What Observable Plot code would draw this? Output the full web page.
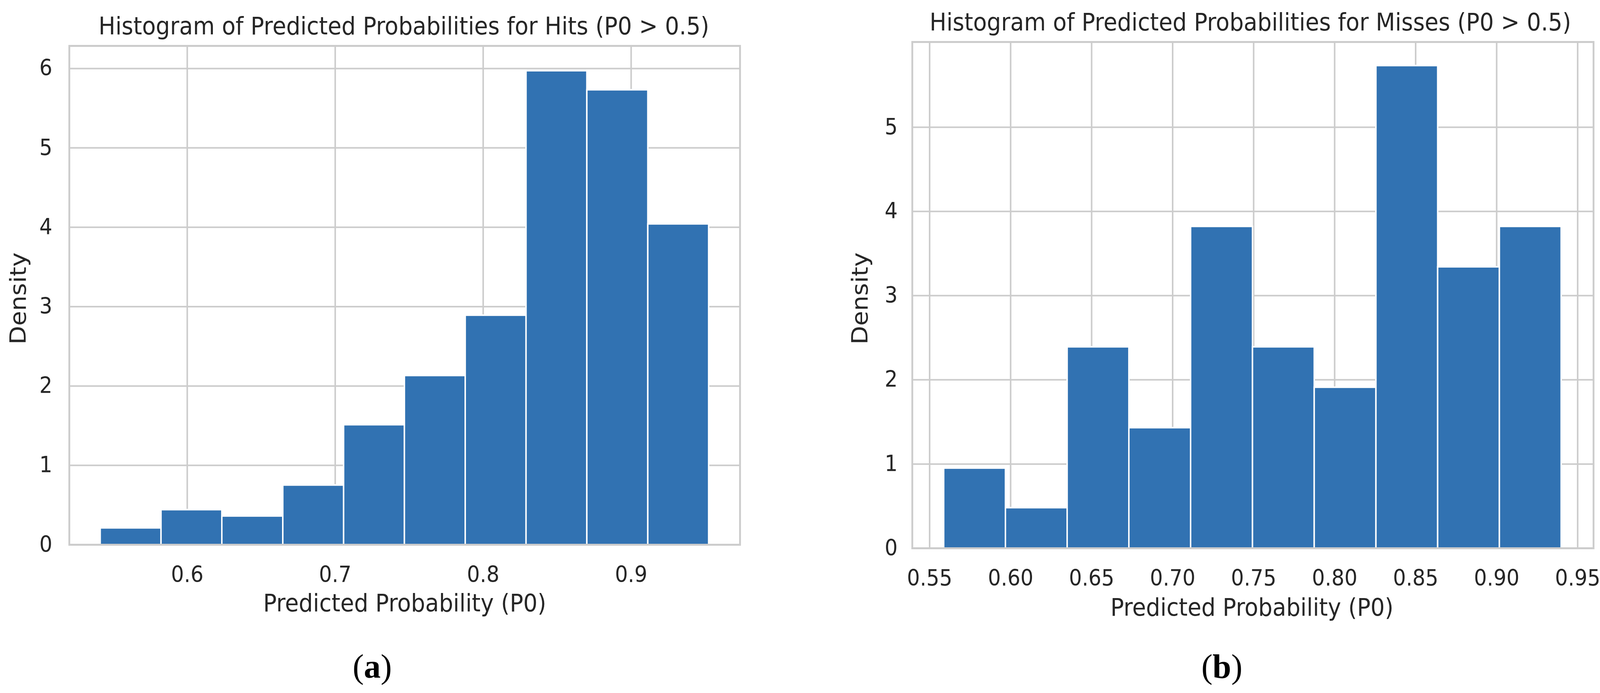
<!DOCTYPE html>
<html>
<head>
<meta charset="utf-8">
<script src="https://cdn.jsdelivr.net/npm/d3@7"></script>
<script src="https://cdn.jsdelivr.net/npm/@observablehq/plot@0.6"></script>
<style>
  html, body { margin: 0; padding: 0; background: #ffffff; }
  #fig { position: relative; width: 4105px; height: 1774px; background: #ffffff; overflow: hidden; }
  .panel { position: absolute; top: 0; }
  #overlay { position: absolute; left: 0; top: 0; pointer-events: none; }
</style>
</head>
<body>
<div id="fig">
  <div id="left" class="panel" style="left:0px"></div>
  <div id="right" class="panel" style="left:2052px"></div>
  <svg id="overlay" width="4105" height="1774"></svg>
</div>
<script>
// ---------------- data ----------------
// (a) Hits: bin edges and density heights
const hitsBinEdges = [0.5413, 0.5824, 0.6235, 0.6647, 0.7058, 0.7469, 0.7880, 0.8291, 0.8702, 0.9114, 0.9525];
const hitsDensity  = [0.21, 0.44, 0.36, 0.75, 1.51, 2.13, 2.89, 5.97, 5.73, 4.04];
const hitsXTicks   = [0.6, 0.7, 0.8, 0.9];
const hitsYTicks   = [0, 1, 2, 3, 4, 5, 6];

// (b) Misses: bin edges and density heights
const missBinEdges = [0.5588, 0.5969, 0.6350, 0.6731, 0.7112, 0.7494, 0.7875, 0.8256, 0.8637, 0.9018, 0.9399];
const missDensity  = [0.95, 0.48, 2.39, 1.43, 3.82, 2.39, 1.91, 5.73, 3.34, 3.82];
const missXTicks   = [0.55, 0.60, 0.65, 0.70, 0.75, 0.80, 0.85, 0.90, 0.95];
const missYTicks   = [0, 1, 2, 3, 4, 5];

const titles   = ["Histogram of Predicted Probabilities for Hits (P0 > 0.5)",
                  "Histogram of Predicted Probabilities for Misses (P0 > 0.5)"];
const xLabel   = "Predicted Probability (P0)";
const yLabel   = "Density";
const captions = ["a", "b"];

// ---------------- styling ----------------
const SQ = 0.925;          // horizontal squeeze of the original figure
const H = 1620;            // svg height
const BAR = "#3172b2";
const GRID = "#cccccc";
const INK = "#262626";
const FONT = "DejaVu Sans, Noto Sans, sans-serif";

function rows(edges, dens) {
  return dens.map((d, i) => ({x1: edges[i], x2: edges[i + 1], y: d}));
}

function panel({realW, mLeft, mRight, mTop, mBottom, xDomain, yDomain, xTicks, yTicks, xFmt, yPad, data}) {
  const vw = realW / SQ;
  const svg = Plot.plot({
    width: vw,
    height: H,
    marginLeft: mLeft / SQ,
    marginRight: mRight / SQ,
    marginTop: mTop,
    marginBottom: mBottom,
    style: {fontFamily: FONT, fontSize: "56.5px", color: INK, background: "transparent"},
    x: {domain: xDomain, ticks: xTicks, tickFormat: d3.format(xFmt), tickSize: 0, tickPadding: 55, label: null},
    y: {domain: yDomain, ticks: yTicks, tickFormat: d3.format("d"), tickSize: 0, tickPadding: yPad, label: null},
    marks: [
      Plot.ruleX(xTicks, {stroke: GRID, strokeWidth: 4.3}),
      Plot.ruleY(yTicks, {stroke: GRID, strokeWidth: 4}),
      Plot.rectY(data, {x1: "x1", x2: "x2", y: "y", fill: BAR, stroke: "white", strokeWidth: 4, inset: 0}),
      Plot.frame({stroke: GRID, strokeWidth: 5})
    ]
  });
  svg.setAttribute("width", realW);
  svg.setAttribute("height", H);
  svg.setAttribute("preserveAspectRatio", "none");
  svg.style.width = realW + "px";
  svg.style.height = H + "px";
  svg.style.maxWidth = "none";
  return svg;
}

document.getElementById("left").appendChild(panel({
  realW: 2052, mLeft: 177, mRight: 158, mTop: 117, mBottom: H - 1394,
  xDomain: [0.5203, 0.9736], yDomain: [0, 6.285],
  xTicks: hitsXTicks, yTicks: hitsYTicks, xFmt: ".1f", yPad: 47,
  data: rows(hitsBinEdges, hitsDensity)
}));

document.getElementById("right").appendChild(panel({
  realW: 2053, mLeft: 283, mRight: 26, mTop: 107, mBottom: H - 1403,
  xDomain: [0.5393, 0.9598], yDomain: [0, 6.012],
  xTicks: missXTicks, yTicks: missYTicks, xFmt: ".2f", yPad: 40.5,
  data: rows(missBinEdges, missDensity)
}));

// ---------------- titles, axis labels, captions ----------------
const ov = d3.select("#overlay");
function label(txt, x, y, size, rotate) {
  ov.append("text")
    .attr("transform", `translate(${x},${y}) scale(${SQ},1)` + (rotate ? " rotate(-90)" : ""))
    .attr("text-anchor", "middle")
    .attr("font-family", FONT)
    .attr("font-size", size)
    .attr("fill", INK)
    .text(txt);
}
const layout = [
  {titleX: 1034, titleY: 88, xlabX: 1036, xlabY: 1565, ylabX: 66,   ylabY: 764, capX: 953},
  {titleX: 3201, titleY: 78, xlabX: 3205, xlabY: 1576, ylabX: 2221, ylabY: 764, capX: 3128}
];
layout.forEach((p, i) => {
  label(titles[i], p.titleX, p.titleY, 62, false);
  label(xLabel, p.xlabX, p.xlabY, 62, false);
  label(yLabel, p.ylabX, p.ylabY, 62, true);
  const t = ov.append("text")
    .attr("x", p.capX).attr("y", 1735)
    .attr("text-anchor", "middle")
    .attr("font-family", "Liberation Serif, Times New Roman, serif")
    .attr("font-size", 86)
    .attr("fill", "#000");
  t.append("tspan").text("(");
  t.append("tspan").attr("font-weight", "bold").text(captions[i]);
  t.append("tspan").text(")");
});
</script>
</body>
</html>
